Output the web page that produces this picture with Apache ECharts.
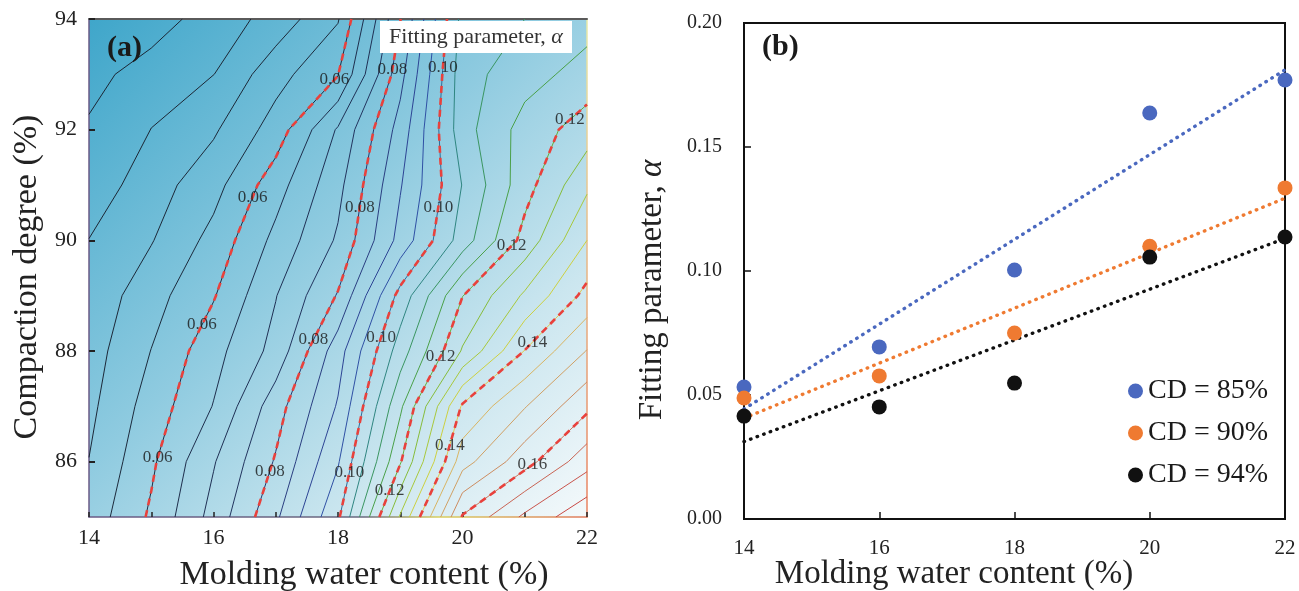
<!DOCTYPE html>
<html><head><meta charset="utf-8">
<script src="https://cdn.jsdelivr.net/npm/echarts@6/dist/echarts.min.js"></script>
<style>html,body{margin:0;padding:0;background:#fff}#c{width:1299px;height:591px}</style>
</head><body><div id="c"></div>
<script>
// ---------- panel (a): contour of alpha over water content x compaction degree ----------
const waterContent = [14, 15, 16, 17, 18, 19, 20, 21, 22];
const compactionDegree = [85, 86, 87, 88, 89, 90, 91, 92, 93, 94];
// rows = compaction degree 85..94, columns = water content 14..22
const alphaGrid = [
  [0.0520, 0.0608, 0.0718, 0.0841, 0.0991, 0.1306, 0.1605, 0.1710, 0.1790],
  [0.0501, 0.0591, 0.0696, 0.0805, 0.0945, 0.1195, 0.1480, 0.1580, 0.1680],
  [0.0488, 0.0572, 0.0652, 0.0778, 0.0905, 0.1140, 0.1407, 0.1497, 0.1588],
  [0.0478, 0.0551, 0.0632, 0.0717, 0.0878, 0.1075, 0.1255, 0.1402, 0.1502],
  [0.0466, 0.0530, 0.0596, 0.0698, 0.0804, 0.1018, 0.1199, 0.1308, 0.1416],
  [0.0451, 0.0497, 0.0566, 0.0664, 0.0757, 0.0917, 0.1074, 0.1218, 0.1350],
  [0.0420, 0.0477, 0.0532, 0.0628, 0.0735, 0.0896, 0.1052, 0.1180, 0.1290],
  [0.0405, 0.0451, 0.0493, 0.0572, 0.0706, 0.0870, 0.1080, 0.1170, 0.1225],
  [0.0387, 0.0418, 0.0449, 0.0531, 0.0597, 0.0833, 0.1080, 0.1130, 0.1170],
  [0.0360, 0.0380, 0.0420, 0.0470, 0.0546, 0.0798, 0.1067, 0.1100, 0.1130]
];
const contourLevels = [0.040, 0.045, 0.050, 0.055, 0.060, 0.065, 0.070, 0.075, 0.080, 0.085,
  0.090, 0.095, 0.100, 0.105, 0.110, 0.115, 0.120, 0.125, 0.130, 0.135,
  0.140, 0.145, 0.150, 0.155, 0.160, 0.165, 0.170, 0.175];
const levelColors = ['#1c2634', '#1c2634', '#1c2838', '#1c2a3c', '#1d2c44', '#1e2e4c', '#1f3054', '#22345e',
  '#26386c', '#2a3e80', '#2d4494', '#2f50a4', '#2e6a98', '#2f8580', '#3a9560', '#4aa048',
  '#66ad3c', '#86bc3a', '#a8c83c', '#ccd040', '#e0c850', '#d8b462', '#d0a064', '#cc8c60',
  '#c8765a', '#c86454', '#c8544c', '#c84844'];
const dashedLevels = [0.06, 0.08, 0.10, 0.12, 0.14, 0.16];
// compaction degrees at which each dashed level carries a label
const labelRows006 = [92.9, 90.78, 88.47, 86.07];
const labelRows008 = [93.08, 90.6, 88.2, 85.83];
const labelRows010 = [93.13, 90.6, 88.25, 85.81];
const labelRows012 = [92.18, 89.9, 87.9, 85.47];
const labelRows014 = [88.16, 86.3];
const labelRows016 = [85.94];
const labelRows = [labelRows006, labelRows008, labelRows010, labelRows012, labelRows014, labelRows016];
const leftXTicks = [14, 15, 16, 17, 18, 19, 20, 21, 22];
const leftXLabels = [14, 16, 18, 20, 22];
const leftYTicks = [86, 88, 90, 92, 94];

// ---------- panel (b): scatter + linear fits ----------
const waterContentB = [14, 16, 18, 20, 22];
const alphaCD85 = [0.0532, 0.0694, 0.1004, 0.1637, 0.1770];
const alphaCD90 = [0.0488, 0.0577, 0.0750, 0.1100, 0.1335];
const alphaCD94 = [0.0415, 0.0452, 0.0548, 0.1056, 0.1137];
const seriesNamesB = ['CD = 85%', 'CD = 90%', 'CD = 94%'];
const seriesColorsB = ['#4a68bf', '#ef7a31', '#111111'];

const SERIF = '"Liberation Serif", "Times New Roman", serif';

// ---- marching squares ----
function contourSegments(level) {
  const segs = [];
  for (let j = 0; j < compactionDegree.length - 1; j++) {
    for (let i = 0; i < waterContent.length - 1; i++) {
      const x0 = waterContent[i], x1 = waterContent[i + 1];
      const y0 = compactionDegree[j], y1 = compactionDegree[j + 1];
      const v00 = alphaGrid[j][i], v10 = alphaGrid[j][i + 1];
      const v01 = alphaGrid[j + 1][i], v11 = alphaGrid[j + 1][i + 1];
      const pts = [];
      const edge = (va, vb, pa, pb) => {
        if ((va < level) !== (vb < level)) {
          const t = (level - va) / (vb - va);
          pts.push([pa[0] + t * (pb[0] - pa[0]), pa[1] + t * (pb[1] - pa[1])]);
        }
      };
      edge(v00, v10, [x0, y0], [x1, y0]);
      edge(v10, v11, [x1, y0], [x1, y1]);
      edge(v01, v11, [x0, y1], [x1, y1]);
      edge(v00, v01, [x0, y0], [x0, y1]);
      if (pts.length === 2) segs.push([pts[0], pts[1]]);
      else if (pts.length === 4) {
        const c = (v00 + v10 + v01 + v11) / 4;
        if ((c < level) === (v00 < level)) { segs.push([pts[0], pts[1]]); segs.push([pts[2], pts[3]]); }
        else { segs.push([pts[0], pts[3]]); segs.push([pts[1], pts[2]]); }
      }
    }
  }
  return segs;
}
function chain(segs) {
  const key = p => p[0].toFixed(6) + ',' + p[1].toFixed(6);
  const map = new Map();
  segs.forEach((s, idx) => s.forEach(p => { const k = key(p); if (!map.has(k)) map.set(k, []); map.get(k).push(idx); }));
  const used = new Array(segs.length).fill(false);
  const lines = [];
  for (let s = 0; s < segs.length; s++) {
    if (used[s]) continue;
    used[s] = true;
    const line = [segs[s][0], segs[s][1]];
    const extend = atEnd => {
      while (true) {
        const p = atEnd ? line[line.length - 1] : line[0];
        const nxt = (map.get(key(p)) || []).find(i => !used[i]);
        if (nxt === undefined) break;
        used[nxt] = true;
        const sg = segs[nxt];
        const q = key(sg[0]) === key(p) ? sg[1] : sg[0];
        if (atEnd) line.push(q); else line.unshift(q);
      }
    };
    extend(true); extend(false);
    lines.push(line);
  }
  return lines;
}
function crossingAt(lines, cd) {
  for (const line of lines) {
    for (let k = 0; k < line.length - 1; k++) {
      const a = line[k], b = line[k + 1];
      if ((a[1] - cd) * (b[1] - cd) <= 0 && a[1] !== b[1]) {
        const t = (cd - a[1]) / (b[1] - a[1]);
        return a[0] + t * (b[0] - a[0]);
      }
    }
  }
  return null;
}

const series = [];
const contourLinesByLevel = {};
contourLevels.forEach((lv, li) => {
  const lines = chain(contourSegments(lv));
  contourLinesByLevel[lv.toFixed(3)] = lines;
  lines.forEach(line => series.push({
    type: 'line', xAxisIndex: 0, yAxisIndex: 0, data: line, showSymbol: false, symbol: 'none',
    silent: true, animation: false, z: 2,
    lineStyle: { color: levelColors[li], width: 1 }
  }));
});
const labelData = [];
dashedLevels.forEach((lv, di) => {
  const lines = contourLinesByLevel[lv.toFixed(3)];
  lines.forEach(line => series.push({
    type: 'line', xAxisIndex: 0, yAxisIndex: 0, data: line, showSymbol: false, symbol: 'none',
    silent: true, animation: false, z: 3,
    lineStyle: { color: '#e8413c', width: 2.6, type: [7, 5] }
  }));
  labelRows[di].forEach(cd => {
    const w = crossingAt(lines, cd);
    if (w !== null) labelData.push([w, cd, lv.toFixed(2)]);
  });
});
series.push({
  type: 'scatter', xAxisIndex: 0, yAxisIndex: 0, data: labelData, symbolSize: 1, silent: true,
  animation: false, z: 5, clip: false,
  itemStyle: { color: 'rgba(0,0,0,0)' },
  label: { show: true, position: 'inside', formatter: p => p.data[2], fontFamily: SERIF, fontSize: 17, color: '#161616' }
});

// ---- panel (b) series ----
function linFit(xs, ys) {
  const n = xs.length;
  const mx = xs.reduce((a, b) => a + b, 0) / n, my = ys.reduce((a, b) => a + b, 0) / n;
  let sxy = 0, sxx = 0;
  for (let i = 0; i < n; i++) { sxy += (xs[i] - mx) * (ys[i] - my); sxx += (xs[i] - mx) ** 2; }
  const k = sxy / sxx;
  return x => my + k * (x - mx);
}
[alphaCD85, alphaCD90, alphaCD94].forEach((arr, si) => {
  const f = linFit(waterContentB, arr);
  const x0 = waterContentB[0], x1 = waterContentB[waterContentB.length - 1];
  series.push({
    type: 'line', xAxisIndex: 3, yAxisIndex: 3, data: [[x0, f(x0)], [x1, f(x1)]],
    showSymbol: false, symbol: 'none', silent: true, animation: false, z: 3,
    lineStyle: { color: seriesColorsB[si], width: 3.4, type: [0.5, 6.5], cap: 'round' }
  });
});
[alphaCD85, alphaCD90, alphaCD94].forEach((arr, si) => {
  series.push({
    name: seriesNamesB[si], type: 'scatter', xAxisIndex: 3, yAxisIndex: 3,
    data: waterContentB.map((w, i) => [w, arr[i]]), symbol: 'circle', symbolSize: 15,
    animation: false, z: 6, clip: false,
    itemStyle: { color: seriesColorsB[si], opacity: 1 }
  });
});

const chart = echarts.init(document.getElementById('c'), null, { renderer: 'canvas' });
chart.setOption({
  backgroundColor: '#ffffff',
  animation: false,
  textStyle: { fontFamily: SERIF },
  grid: [
    { left: 89, top: 19, width: 498, height: 498, show: true, borderColor: 'transparent', borderWidth: 0,
      backgroundColor: { type: 'linear', x: 0, y: 0, x2: 1, y2: 1,
        colorStops: [{ offset: 0, color: '#3fa6ca' }, { offset: 0.45, color: '#8fcbe0' }, { offset: 0.75, color: '#cbe6ef' }, { offset: 1, color: '#f4f9fb' }] } },
    { left: 744, top: 23, width: 541, height: 496, show: true, borderColor: '#111', borderWidth: 2, backgroundColor: 'transparent' }
  ],
  legend: {
    data: seriesNamesB, orient: 'vertical', left: 1123, top: 372, itemGap: 14,
    icon: 'circle', itemWidth: 15, itemHeight: 15,
    textStyle: { fontFamily: SERIF, fontSize: 28, color: '#1a1a1a', padding: [0, 0, 0, 0] }
  },
  xAxis: [
    { gridIndex: 0, type: 'value', min: 14, max: 22, position: 'bottom',
      axisLine: { show: true, lineStyle: { width: 1.5, color: { type: 'linear', x: 0, y: 0, x2: 1, y2: 0,
        colorStops: [{ offset: 0, color: '#6a5a86' }, { offset: 0.55, color: '#6a6a80' }, { offset: 0.7, color: '#d8d060' }, { offset: 1, color: '#e07a60' }] } } },
      axisTick: { show: true, inside: true, length: 5, customValues: leftXTicks, lineStyle: { color: '#222', width: 1.5 } },
      axisLabel: { customValues: leftXLabels, fontFamily: SERIF, fontSize: 22, color: '#222', margin: 10 },
      splitLine: { show: false } },
    { gridIndex: 0, type: 'value', min: 14, max: 22, position: 'top',
      axisLine: { show: true, lineStyle: { color: '#5a5a5a', width: 2 } },
      axisTick: { show: false }, axisLabel: { show: false }, splitLine: { show: false } },
    { gridIndex: 1, type: 'value', min: 14, max: 22, position: 'top', show: false },
    { gridIndex: 1, type: 'value', min: 14, max: 22, interval: 2, position: 'bottom',
      axisLine: { show: true, onZero: false, lineStyle: { color: '#111', width: 2 } },
      axisTick: { show: true, inside: true, length: 7, lineStyle: { color: '#111', width: 1.5 } },
      axisLabel: { fontFamily: SERIF, fontSize: 21, color: '#222', margin: 19 },
      splitLine: { show: false } }
  ],
  yAxis: [
    { gridIndex: 0, type: 'value', min: 85, max: 94, position: 'left',
      axisLine: { show: true, lineStyle: { color: '#6a5a86', width: 1.5 } },
      axisTick: { show: true, inside: true, length: 6, customValues: leftYTicks, lineStyle: { color: '#222', width: 2 } },
      axisLabel: { customValues: leftYTicks, fontFamily: SERIF, fontSize: 22, color: '#222', margin: 12 },
      splitLine: { show: false } },
    { gridIndex: 0, type: 'value', min: 85, max: 94, position: 'right',
      axisLine: { show: true, lineStyle: { width: 1.5, color: { type: 'linear', x: 0, y: 0, x2: 0, y2: 1,
        colorStops: [{ offset: 0, color: '#e6eaa8' }, { offset: 1, color: '#e88060' }] } } },
      axisTick: { show: false }, axisLabel: { show: false }, splitLine: { show: false } },
    { gridIndex: 1, type: 'value', min: 0, max: 0.2, position: 'right', show: false },
    { gridIndex: 1, type: 'value', min: 0, max: 0.2, interval: 0.05, position: 'left',
      axisLine: { show: true, onZero: false, lineStyle: { color: '#111', width: 2 } },
      axisTick: { show: true, inside: true, length: 7, lineStyle: { color: '#111', width: 1.5 } },
      axisLabel: { fontFamily: SERIF, fontSize: 20, color: '#222', margin: 22, formatter: v => v.toFixed(2) },
      splitLine: { show: false } }
  ],
  graphic: [
    { type: 'text', z: 100, style: { text: '(a)', x: 107, y: 48, verticalAlign: 'middle', font: 'bold 30px ' + SERIF, fill: '#1a1a1a' } },
    { type: 'rect', z: 99, shape: { x: 380, y: 21, width: 192, height: 32 }, style: { fill: '#ffffff' } },
    { type: 'text', z: 100, style: { text: 'Fitting parameter, {it|α}', x: 476, y: 37, align: 'center', verticalAlign: 'middle',
      font: '22px ' + SERIF, fill: '#333', rich: { it: { fontStyle: 'italic', fontFamily: SERIF, fontSize: 22, fill: '#333' } } } },
    { type: 'text', z: 100, style: { text: '(b)', x: 762, y: 47, verticalAlign: 'middle', font: 'bold 30px ' + SERIF, fill: '#1a1a1a' } },
    { type: 'text', z: 100, style: { text: 'Molding water content (%)', x: 364, y: 575, align: 'center', verticalAlign: 'middle', font: '34px ' + SERIF, fill: '#222' } },
    { type: 'text', z: 100, x: 27, y: 277, rotation: Math.PI / 2, style: { text: 'Compaction degree (%)', x: 0, y: 0, align: 'center', verticalAlign: 'middle', font: '34px ' + SERIF, fill: '#222' } },
    { type: 'text', z: 100, style: { text: 'Molding water content (%)', x: 954, y: 574, align: 'center', verticalAlign: 'middle', font: '33px ' + SERIF, fill: '#222' } },
    { type: 'text', z: 100, x: 652, y: 290, rotation: Math.PI / 2, style: { text: 'Fitting parameter, {it|α}', x: 0, y: 0, align: 'center', verticalAlign: 'middle',
      font: '33px ' + SERIF, fill: '#222', rich: { it: { fontStyle: 'italic', fontFamily: SERIF, fontSize: 33, fill: '#222' } } } }
  ],
  series: series
});
</script></body></html>
